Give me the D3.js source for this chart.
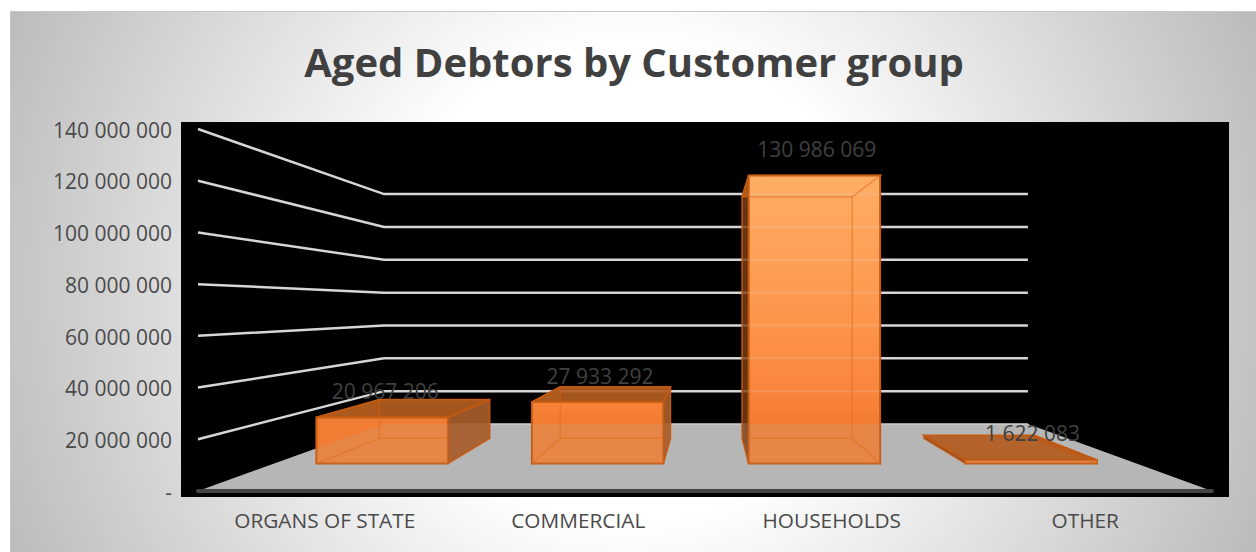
<!DOCTYPE html>
<html>
<head>
<meta charset="utf-8">
<script src="https://cdnjs.cloudflare.com/ajax/libs/d3/7.8.5/d3.min.js"></script>
<style>
  html, body { margin: 0; padding: 0; background: #fff; }
  svg { display: block; }
  text { font-family: "Open Sans", sans-serif; }
</style>
</head>
<body>
<svg id="chart" width="1256" height="552"></svg>
<script>
// Chart content
const chartTitle = "Aged Debtors by Customer group";
const categories = ["ORGANS OF STATE", "COMMERCIAL", "HOUSEHOLDS", "OTHER"];
const debtorValues = [20967206, 27933292, 130986069, 1622083];
const valueTicks = [0, 20000000, 40000000, 60000000, 80000000, 100000000, 120000000, 140000000];
const labelNudges = [5, 3, 3, 2];
const barShifts = [0, 0, 1.5, 3];

const svg = d3.select("#chart");
const defs = svg.append("defs");

// Scales on the front plane of the 3D box
const x = d3.scaleBand().domain(categories).range([198, 1212]).paddingInner(0.39).paddingOuter(0.195);
const band = d3.scaleBand().domain(categories).range([198, 1212]);
const y = d3.scaleLinear().domain([0, 140000000]).range([491, 129]);

// Perspective: everything shrinks toward a single vanishing point
const vanish = [707.6, 307.4];
const wallDepth = 0.635, barFront = 0.85, barBack = 0.713;
const project = (px, py, s) => [vanish[0] + (px - vanish[0]) * s, vanish[1] + (py - vanish[1]) * s];
const poly = pts => "M" + pts.map(p => p.join(",")).join("L") + "Z";

const fmt = d3.formatLocale({ decimal: ".", thousands: " ", grouping: [3], currency: ["", ""] }).format(",d");
const tickText = v => v === 0 ? "-" : fmt(v);

// Panel background
const bg = defs.append("radialGradient").attr("id", "panelFill")
  .attr("gradientUnits", "userSpaceOnUse").attr("cx", 630).attr("cy", 282).attr("r", 700);
bg.append("stop").attr("offset", 0.34).attr("stop-color", "#ffffff");
bg.append("stop").attr("offset", 1).attr("stop-color", "#b8b8b8");
svg.append("rect").attr("x", 10).attr("y", 11).attr("width", 1246).attr("height", 541).attr("fill", "url(#panelFill)");
svg.append("path").attr("d", "M10.5,552V11.5H1256").attr("fill", "none").attr("stroke", "#c6c6c6");

svg.append("text").attr("x", 634).attr("y", 77).attr("text-anchor", "middle")
  .attr("font-size", 40).attr("font-weight", 700).attr("fill", "#404040").text(chartTitle);

// Black plot area
svg.append("rect").attr("x", 181).attr("y", 122).attr("width", 1048).attr("height", 375).attr("fill", "#000");

// Floor and gridlines are also re-drawn faintly through the bars
const floorPath = poly([project(198, y(0), wallDepth), project(1212, y(0), wallDepth), [1212, y(0)], [198, y(0)]]);
function drawStructure(g) {
  g.append("path").attr("d", floorPath).attr("fill", "#b6b6b6");
  valueTicks.slice(1).forEach(v => {
    const a = [198, y(v)], b = project(198, y(v), wallDepth), c = project(1212, y(v), wallDepth);
    g.append("path").attr("d", `M${a}L${b}L${c}`).attr("fill", "none")
      .attr("stroke", "#d6d6d6").attr("stroke-width", 2.5);
  });
}
drawStructure(svg.append("g"));
svg.append("path").attr("d", `M${project(198, y(0), wallDepth)}L${project(1212, y(0), wallDepth)}`)
  .attr("stroke", "#cfcfcf").attr("stroke-width", 1.5);
svg.append("path").attr("d", "M198,491L1212,491").attr("stroke", "#444").attr("stroke-width", 4).attr("stroke-linecap", "round");

// Value axis and category axis
const yAxis = svg.append("g").attr("transform", "translate(172,1.5)")
  .call(d3.axisLeft(y).tickValues(valueTicks).tickFormat(tickText).tickSize(0).tickPadding(0));
yAxis.select(".domain").remove();
yAxis.selectAll("text").attr("font-size", 21).attr("fill", "#4a4a4a").style("font-family", '"Open Sans", sans-serif');

const xAxis = svg.append("g").attr("transform", "translate(0,513)")
  .call(d3.axisBottom(band).tickSize(0).tickPadding(0));
xAxis.select(".domain").remove();
xAxis.selectAll("text").attr("font-size", 20.8).attr("fill", "#4a4a4a").style("font-family", '"Open Sans", sans-serif');

// Front-face colour runs from pale at the top of the tall bar to strong orange low down
const frontFill = defs.append("linearGradient").attr("id", "frontFill")
  .attr("gradientUnits", "userSpaceOnUse").attr("x1", 0).attr("x2", 0).attr("y1", 174).attr("y2", 463);
[[0, "#ffae66"], [0.55, "#fd9349"], [0.8, "#f78238"], [0.85, "#f17e33"], [1, "#f07d32"]].forEach(([o, c]) =>
  frontFill.append("stop").attr("offset", o).attr("stop-color", c));

// Boxes, built from each value
const geometry = debtorValues.map((v, i) => {
  const x0 = x(categories[i]) + barShifts[i], x1 = x0 + x.bandwidth();
  const yb = y(0), yt = y(v);
  const f = (px, py) => project(px, py, barFront);
  const b = (px, py) => project(px, py, barBack);
  return {
    front: [f(x0, yt), f(x1, yt), f(x1, yb), f(x0, yb)],
    back: [b(x0, yt), b(x1, yt), b(x1, yb), b(x0, yb)],
    top: [b(x0, yt), b(x1, yt), f(x1, yt), f(x0, yt)],
    bottom: [b(x0, yb), b(x1, yb), f(x1, yb), f(x0, yb)],
    left: [b(x0, yt), f(x0, yt), f(x0, yb), b(x0, yb)],
    right: [f(x1, yt), b(x1, yt), b(x1, yb), f(x1, yb)]
  };
});

const edge = "#c55a11";
const faces = ["back", "bottom", "left", "right", "top"];
const bars = svg.append("g").selectAll("g").data(geometry).join("g");
bars.append("path").attr("d", d => poly(d.back)).attr("fill", "#ed7d31").attr("fill-opacity", 0.1);
bars.append("path").attr("d", d => poly(d.bottom)).attr("fill", "#ed7d31").attr("fill-opacity", 0.25);
bars.append("path").attr("d", d => poly(d.left)).attr("fill", "#7a3f14").attr("fill-opacity", 0.8);
bars.append("path").attr("d", d => poly(d.right)).attr("fill", "#a65c2a").attr("fill-opacity", 0.92);
bars.append("path").attr("d", d => poly(d.top)).attr("fill", "#b25c20").attr("fill-opacity", 0.92);
// Edges outside the front face
bars.append("path").attr("d", d => poly(d.top)).attr("fill", "none").attr("stroke", edge).attr("stroke-width", 1.6);
bars.append("path").attr("d", d => poly(d.right)).attr("fill", "none").attr("stroke", edge).attr("stroke-width", 1.4);
bars.append("path").attr("d", d => poly(d.left)).attr("fill", "none").attr("stroke", edge).attr("stroke-width", 1.4);
bars.append("path").attr("d", d => poly(d.front)).attr("fill", "url(#frontFill)");

// Faint view of the floor, gridlines and far edges through the translucent fronts
geometry.forEach((d, i) => {
  defs.append("clipPath").attr("id", "through" + i).append("path").attr("d", poly(d.front));
  const g = svg.append("g").attr("clip-path", `url(#through${i})`);
  drawStructure(g.append("g").attr("opacity", 0.16));
  const far = g.append("g").attr("fill", "none").attr("stroke", "#e0701f").attr("stroke-opacity", 0.4).attr("stroke-width", 1.2);
  faces.forEach(name => far.append("path").attr("d", poly(d[name])));
});

bars.append("path").attr("d", d => poly(d.front)).attr("fill", "none").attr("stroke", edge).attr("stroke-width", 2);

// Data labels sit just above the projected front top
svg.append("g").selectAll("text").data(debtorValues).join("text")
  .attr("x", (v, i) => project(band(categories[i]) + band.bandwidth() / 2, y(v), 0.855)[0] + labelNudges[i])
  .attr("y", (v, i) => geometry[i].front[0][1] - 18.5)
  .attr("text-anchor", "middle").attr("font-size", 21).attr("fill", "#404040")
  .text(v => fmt(v));
</script>
</body>
</html>
